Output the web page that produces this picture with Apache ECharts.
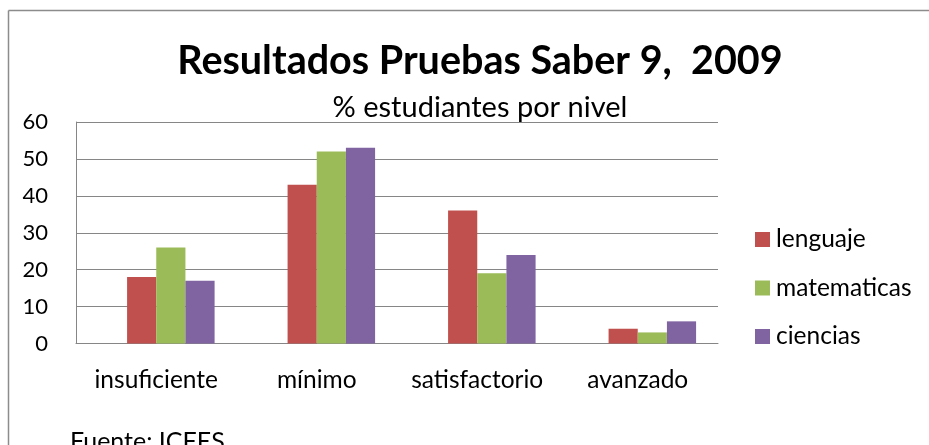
<!DOCTYPE html>
<html><head><meta charset="utf-8">
<script src="https://cdn.jsdelivr.net/npm/echarts@6/dist/echarts.min.js"></script>
<style>html,body{margin:0;padding:0;background:#fff}#c{width:929px;height:445px}</style>
</head><body><div id="c"></div>
<script>
const categories = ['insuficiente', 'mínimo', 'satisfactorio', 'avanzado'];
const blankSeries = ['-', '-', '-', '-'];
const lenguaje = [18, 43, 36, 4];
const matematicas = [26, 52, 19, 3];
const ciencias = [17, 53, 24, 6];
const yTicks = [0, 10, 20, 30, 40, 50, 60];

const FONT = 'Lato';
const chart = echarts.init(document.getElementById('c'), null, {renderer: 'canvas'});
const mk = (name, data, color) => ({
  name, type: 'bar', data, barGap: '0%', barCategoryGap: '27.3%',
  itemStyle: {color}, emphasis: {disabled: true}
});
chart.setOption({
  animation: false,
  textStyle: {fontFamily: FONT},
  title: [
    {text: 'Resultados Pruebas Saber 9,  2009', left: 475, top: 36, textAlign: 'center',
     textStyle: {fontFamily: FONT, fontWeight: 'bold', fontSize: 39.5, color: '#000'}},
    {text: '% estudiantes por nivel', left: 475, top: 88, textAlign: 'center',
     textStyle: {fontFamily: FONT, fontWeight: 'normal', fontSize: 29, color: '#000'}},
    {text: 'Fuente: ICFES', left: 65, top: 424,
     textStyle: {fontFamily: FONT, fontWeight: 'normal', fontSize: 25, color: '#000'}}
  ],
  legend: {
    orient: 'vertical', left: 755, top: 227, padding: 0, itemWidth: 15, itemHeight: 15, itemGap: 23.5,
    icon: 'rect', textStyle: {fontFamily: FONT, fontSize: 24.5, color: '#000', padding: [0, 0, 0, 1]},
    data: ['lenguaje', 'matematicas', 'ciencias']
  },
  grid: {left: 76, right: 211, top: 122, bottom: 101.5, containLabel: false},
  xAxis: {
    type: 'category', data: categories,
    axisLine: {lineStyle: {color: '#868686', width: 1}},
    axisTick: {show: false},
    axisLabel: {color: '#000', fontSize: 24.5, fontFamily: FONT, margin: 24, interval: 0}
  },
  yAxis: {
    type: 'value', min: yTicks[0], max: yTicks[yTicks.length - 1], interval: 10,
    axisLine: {show: true, lineStyle: {color: '#868686', width: 1}},
    axisTick: {show: false},
    splitLine: {lineStyle: {color: '#868686', width: 1}},
    axisLabel: {color: '#000', fontSize: 22, fontFamily: FONT, margin: 28}
  },
  graphic: [
    {type: 'line', shape: {x1: 8.5, y1: 10.5, x2: 929, y2: 10.5}, style: {stroke: '#8c8c8c', lineWidth: 1.5}},
    {type: 'line', shape: {x1: 8.5, y1: 10.5, x2: 8.5, y2: 445}, style: {stroke: '#8c8c8c', lineWidth: 1.5}}
  ],
  series: [
    mk('', blankSeries, '#4F81BD'),
    mk('lenguaje', lenguaje, '#C0504D'),
    mk('matematicas', matematicas, '#9BBB59'),
    mk('ciencias', ciencias, '#8064A2')
  ]
});
</script></body></html>
